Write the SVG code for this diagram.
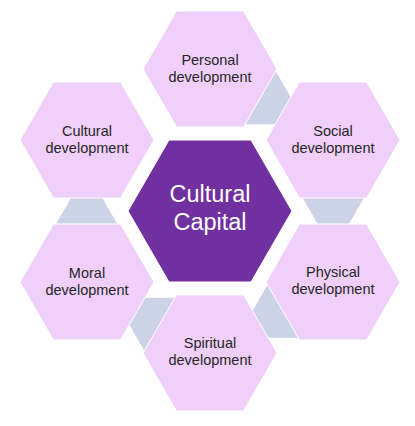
<svg xmlns="http://www.w3.org/2000/svg" width="415" height="426" viewBox="0 0 415 426">
<style>
.hex{fill:#F0D0FA;stroke:#FFFFFF;stroke-width:1}
.core{fill:#7030A0;stroke:#FFFFFF;stroke-width:1}
.conn{fill:#CDD3E6;stroke:none}
.lbl{font-family:"Liberation Sans",Arial,sans-serif;font-size:14.5px;fill:#262626;text-anchor:middle}
.clbl{font-family:"Liberation Sans",Arial,sans-serif;font-size:23.5px;fill:#FFFFFF;text-anchor:middle}
</style>
<rect width="415" height="426" fill="#FFFFFF"/>
<g id="connectors">
<polygon class="conn" points="229.8,97.7 245.1,71.2 275.7,71.2 291,97.7 275.7,124.2 245.1,124.2"/>
<polygon class="conn" points="302.7,198 318,171.5 348.6,171.5 363.9,198 348.6,224.5 318,224.5"/>
<polygon class="conn" points="252.3,311.3 267.6,284.8 298.2,284.8 313.5,311.3 298.2,337.8 267.6,337.8"/>
<polygon class="conn" points="129,324.3 144.3,297.8 174.9,297.8 190.2,324.3 174.9,350.8 144.3,350.8"/>
<polygon class="conn" points="56.1,224 71.4,197.5 102,197.5 117.3,224 102,250.5 71.4,250.5"/>
</g>
<g id="center">
<polygon class="core" points="128,211 169,140 251,140 292,211 251,282 169,282"/>
<text class="clbl" x="210" y="202">Cultural</text>
<text class="clbl" x="210" y="230">Capital</text>
</g>
<g id="personal">
<polygon class="hex" points="143,69 176.5,11 243.5,11 277,69 243.5,127 176.5,127"/>
<text class="lbl" x="210" y="64.5">Personal</text>
<text class="lbl" x="210" y="81.5">development</text>
</g>
<g id="social">
<polygon class="hex" points="266,140 299.5,82 366.5,82 400,140 366.5,198 299.5,198"/>
<text class="lbl" x="333" y="135.5">Social</text>
<text class="lbl" x="333" y="152.5">development</text>
</g>
<g id="physical">
<polygon class="hex" points="266,282 299.5,224 366.5,224 400,282 366.5,340 299.5,340"/>
<text class="lbl" x="333" y="276.5">Physical</text>
<text class="lbl" x="333" y="293.5">development</text>
</g>
<g id="spiritual">
<polygon class="hex" points="143,353 176.5,295 243.5,295 277,353 243.5,411 176.5,411"/>
<text class="lbl" x="210" y="347.5">Spiritual</text>
<text class="lbl" x="210" y="364.5">development</text>
</g>
<g id="moral">
<polygon class="hex" points="20,282 53.5,224 120.5,224 154,282 120.5,340 53.5,340"/>
<text class="lbl" x="87" y="277.5">Moral</text>
<text class="lbl" x="87" y="294.5">development</text>
</g>
<g id="cultural">
<polygon class="hex" points="20,140 53.5,82 120.5,82 154,140 120.5,198 53.5,198"/>
<text class="lbl" x="87" y="135.5">Cultural</text>
<text class="lbl" x="87" y="152.5">development</text>
</g>
</svg>
